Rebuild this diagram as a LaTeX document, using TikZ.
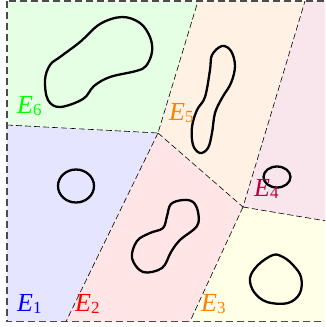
\documentclass[tikz,border=0pt]{standalone}
\usepackage{fontspec}
\newfontfamily\tms{Liberation Serif}
\newcommand{\lbl}[1]{{\tms\fontsize{26}{30}\selectfont\itshape E\/\raisebox{-2.6pt}{\upshape\fontsize{17}{20}\selectfont #1}}}
\begin{document}
\begin{tikzpicture}[x={(1pt,0pt)},y={(0pt,-1pt)},
  blob/.style={line width=2.3pt, line join=round},
  bnd/.style={line width=0.6pt, dash pattern=on 6pt off 3pt},
  frame/.style={line width=1.2pt, black!70, dash pattern=on 7pt off 4pt},
  lab/.style={anchor=base west, inner sep=0pt}]
\useasboundingbox (0,0) rectangle (325,327);
\clip (0,0) rectangle (325,327);
\coordinate (P1) at (158,133);
\coordinate (P2) at (243,207);
\coordinate (TL) at (7,1);
\coordinate (BL) at (7,321.5);
\coordinate (L1) at (7,125);
\coordinate (T1) at (198,1);
\coordinate (T2) at (305,1);
\coordinate (TR) at (340,1);
\coordinate (R1) at (340,223.3);
\coordinate (BR) at (340,321.5);
\coordinate (B1) at (66,321.5);
\coordinate (B2) at (190,321.5);
% regions
\fill[green!10] (TL) -- (T1) -- (P1) -- (L1) -- cycle;
\fill[blue!10] (L1) -- (P1) -- (B1) -- (BL) -- cycle;
\fill[red!10] (P1) -- (P2) -- (B2) -- (B1) -- cycle;
\fill[yellow!10] (P2) -- (R1) -- (BR) -- (B2) -- cycle;
\fill[purple!10] (T2) -- (TR) -- (R1) -- (P2) -- cycle;
\fill[orange!10] (T1) -- (T2) -- (P2) -- (P1) -- cycle;
% boundaries
\draw[bnd] (L1) -- (P1) -- (T1);
\draw[bnd] (P1) -- (B1);
\draw[bnd] (P1) -- (P2) -- (T2);
\draw[bnd] (P2) -- (R1);
\draw[bnd] (P2) -- (B2);
\draw[frame] (TL) rectangle (BR);
% blobs
\draw[blob] plot[smooth cycle, tension=0.6] coordinates {
  (122,17) (140,23) (150,37) (152,52) (146,66) (136,71) (110,77) (94,86)
  (83,99) (60,107) (48,100) (45,80) (50,65) (60,57) (80,42) (100,24)};
\draw[blob] plot[smooth cycle, tension=0.6] coordinates {
  (222,46) (231,51) (235,66) (231,83) (222,98) (215,113) (212,133) (208,148)
  (200,153) (193,145) (192,127) (197,110) (205,97) (210,70) (212,55)};
\draw[blob] (76,186) ellipse [x radius=18pt, y radius=16.5pt];
\draw[blob] plot[smooth cycle, tension=0.6] coordinates {
  (183,200) (193,202) (198,212) (197,226) (180,240) (171,252) (162,268)
  (143,272) (132,258) (137,241) (150,233) (163,228) (167,216) (171,204)};
\draw[blob] (277,177) ellipse [x radius=13.5pt, y radius=10.5pt];
\draw[blob] plot[smooth cycle, tension=0.6] coordinates {
  (273,255) (283,257) (293,265) (301,277) (300,293) (288,303) (267,302)
  (254,292) (250,278) (258,265)};
% labels
\node[lab, text=green] (l6) at (17,113) {\lbl{6}};
\node[lab, text=orange] (l5) at (169,120) {\lbl{5}};
\node[lab, text=purple] (l4) at (254,196) {\lbl{4}};
\node[lab, text=blue] (l1) at (17,311) {\lbl{1}};
\node[lab, text=red] (l2) at (75,311) {\lbl{2}};
\node[lab, text=orange] (l3) at (201,311) {\lbl{3}};
\end{tikzpicture}
\end{document}
